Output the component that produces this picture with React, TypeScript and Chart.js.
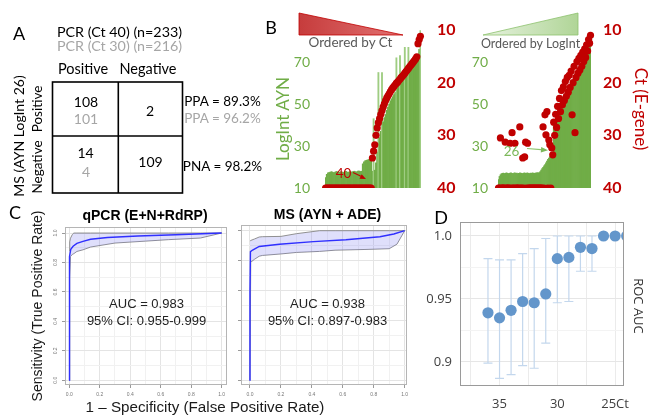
import React, { useEffect, useRef } from "react";
import { Chart, registerables } from "chart.js";
Chart.register(...registerables);

// ---------- Panel B : samples ordered by Ct (left) ----------
const ctOrderLogInt = [
  15.0, 16.5, 17.2,
  17.4, 17.6, 17.8, 17.5, 17.3, 17.6, 17.9, 17.7, 17.5, 17.6, 17.8, 17.6, 17.4, 17.7,
  17.9, 17.6, 17.5, 17.8, 17.7, 17.6, 17.9, 18.0, 17.8, 17.7, 18.0, 18.1, 17.9, 18.0,
  21.5, 22.5, 23.0, 23.2, 23.4, 23.6, 24.0, 24.5,
  18.0, 43.0, 18.5, 22.0,
  27, 65, 34, 37, 65, 41.5, 43.5, 45, 47, 48.5, 50, 51.5, 52.5, 53.5, 54.5, 55.5, 72,
  57.5, 58.5, 73, 60, 61, 61.5, 77, 63.5, 64, 77, 65.5, 66.5, 67, 68, 69, 70, 71, 72, 76, 85,
];
const ctOrderCt = [
  40, 40, 40, 40, 40, 40, 40, 40, 40, 40, 40, 40, 40, 40, 40, 40, 40, 40, 40, 40,
  40, 40, 40, 40, 40, 40, 40, 40, 40, 40, 40, 40, 40, 40, 40, 40, 40, 40, 40,
  34.3, 33.0, 31.8, 30.0, 28.6, 27.6, 26.8, 26.0, 25.3, 24.6, 24.0, 23.4, 22.9, 22.5,
  22.1, 21.7, 21.3, 21.0, 20.7, 20.4, 20.1, 19.9, 19.6, 19.3, 19.0, 18.8, 18.5, 18.2,
  17.9, 17.6, 17.3, 17.0, 16.7, 16.4, 16.1, 15.8, 15.5, 15.1, 12.6, 11.8, 11.2,
];

// ---------- Panel B : samples ordered by LogInt (right) ----------
const logIntOrderLogInt = [
  14.0, 15.5, 16.3,
  16.8, 17.0, 17.1, 16.9, 17.0, 17.2, 17.1, 16.9, 17.0, 17.1, 17.2, 17.0, 16.9, 17.1,
  17.2, 17.0, 17.1, 16.9, 17.0, 17.2, 17.1, 17.0, 16.9, 17.1, 17.2, 17.0, 17.1, 17.2,
  17.0, 16.9, 17.1, 17.0, 17.2, 17.1, 17.0, 17.1, 17.2, 17.3, 17.2, 17.4,
  17.8, 18.5, 19.2, 19.8, 20.5, 21.2, 22.0, 22.8, 23.6, 24.3, 25.0, 25.5, 26.0, 26.5,
  41, 42, 43, 43.8, 44.5, 45.2, 46, 47, 48, 49, 50, 51, 52, 53, 54, 55, 56, 57, 58, 59,
  60, 61, 62, 63, 64, 65, 66, 67, 68, 69, 70, 71, 72, 73, 74, 75, 76, 78, 83,
];
const logIntOrderCt = [
  40, 40, 30.5, 40, 40, 40, 40, 31.3, 40, 40, 40, 40, 31.5, 40, 29.5, 40, 40, 31.5, 40, 40,
  40, 40, 28.4, 40, 40, 34.3, 40, 34.1, 31.3, 40, 31.5, 40, 40, 40, 40, 40, 40, 40, 40, 40,
  40, 40, 40, 40, 40, 40,
  28.4, 40, 26.1, 29.9, 25.5, 40, 30.9, 31.8, 40, 32.4, 33.7,
  27.5, 30.0, 26.0, 28.5, 24.5, 26.8, 23.0, 25.5, 21.5, 24.2, 20.8, 23.4, 19.8, 22.6,
  19.0, 21.8, 18.6, 20.9, 17.8, 26.1, 20.0, 16.9, 29.5, 19.0, 16.0, 18.2, 15.4, 17.6,
  14.8, 16.9, 14.2, 16.0, 13.6, 15.2, 12.8, 14.0, 11.8, 12.5, 11.0,
];
const logIntTicks = [10, 30, 50, 70];
const ctTicks = [10, 20, 30, 40];

// ---------- Panel C : ROC curves ----------
const rocTicks = [0, 0.1, 0.2, 0.3, 0.4, 0.5, 0.6, 0.7, 0.8, 0.9, 1.0];
const qpcrFpr = [0, 0, 0.003, 0.01, 0.025, 0.05, 0.09, 0.14, 0.25, 0.45, 0.7, 1.0];
const qpcrTpr = [0, 0.62, 0.84, 0.89, 0.91, 0.93, 0.943, 0.958, 0.97, 0.98, 0.988, 1.0];
const qpcrBandFpr = [0, 0.003, 0.008, 0.02, 0.03, 0.05, 0.09, 0.14, 0.3, 0.5, 0.65, 0.86, 1.0];
const qpcrBandUpper = [0.88, 0.94, 0.965, 0.99, 1.0, 1.0, 1.0, 1.0, 1.0, 1.0, 1.0, 1.0, 1.0];
const qpcrBandLower = [0, 0.7, 0.84, 0.855, 0.86, 0.875, 0.886, 0.905, 0.932, 0.945, 0.955, 0.966, 1.0];
const msFpr = [0, 0, 0.003, 0.017, 0.06, 0.19, 0.41, 0.62, 0.84, 0.93, 1.0];
const msTpr = [0, 0.6, 0.86, 0.871, 0.895, 0.91, 0.927, 0.94, 0.96, 0.978, 1.0];
const msBandFpr = [0, 0.005, 0.03, 0.06, 0.08, 0.2, 0.3, 0.45, 0.55, 0.75, 0.9, 0.95, 1.0];
const msBandUpper = [0.93, 0.935, 0.945, 0.958, 0.96, 0.962, 0.98, 1.0, 1.0, 1.0, 1.0, 1.0, 1.0];
const msBandLower = [0, 0.79, 0.81, 0.83, 0.835, 0.845, 0.855, 0.862, 0.87, 0.875, 0.88, 0.91, 1.0];

// ---------- Panel D : ROC AUC vs Ct cut-off ----------
const ctCutoffs = [36, 35, 34, 33, 32, 31, 30, 29, 28, 27, 26, 25, 24];
const rocAuc = [0.939, 0.935, 0.941, 0.948, 0.947, 0.954, 0.982, 0.983, 0.991, 0.99, 1.0, 1.0, 1.0];
const aucLow = [0.899, 0.887, 0.89, 0.897, 0.895, 0.915, 0.947, 0.948, 0.972, 0.972, null, null, null];
const aucHigh = [0.982, 0.981, 0.981, 0.986, 0.99, 0.998, 1.0, 1.0, 1.0, 1.0, null, null, null];
const dGridX = [25, 27.5, 30, 32.5, 35, 37.5];
const dLabelX = [35, 30, 25];
const dLabelXText = ["35", "30", "25Ct"];
const dGridY = [0.9, 0.925, 0.95, 0.975, 1.0];
const dLabelY = [0.9, 0.95, 1.0];
const dLabelYText = ["0.9", "0.95", "1.0"];

const GREEN = "#70ad47";
const GREEN_SPIKE = "#9fcd82";
const RED = "#c00000";
const LATO = "Lato, 'Noto Sans', sans-serif";
const ARIAL = "'Liberation Sans', Arial, sans-serif";
const OPEN = "'Open Sans', 'Noto Sans', sans-serif";

const fixedWidth = (w: number) => (s: any) => { s.width = w; s.paddingTop = 0; s.paddingBottom = 0; };
const fixedHeight = (h: number) => (s: any) => { s.height = h; s.paddingLeft = 0; s.paddingRight = 0; };
const near = (a: number, b: number) => Math.abs(a - b) < 1e-6;
const isMajor = (v: number) => Math.abs(Math.round(v * 10) % 2) === 0;

const boxPlugin = {
  id: "box",
  afterDraw(chart: any, _a: any, opts: any) {
    const { ctx, chartArea: a } = chart;
    ctx.save();
    ctx.strokeStyle = opts.color || "#aaa";
    ctx.lineWidth = 1;
    ctx.strokeRect(Math.round(a.left) + 0.5, Math.round(a.top) + 0.5, Math.round(a.right - a.left) - 1, Math.round(a.bottom - a.top) - 1);
    ctx.restore();
  },
};

const errorBarPlugin = {
  id: "errorBars",
  beforeDatasetsDraw(chart: any) {
    const { ctx, scales, chartArea: a } = chart;
    const x = scales.x, y = scales.y;
    ctx.save();
    ctx.beginPath();
    ctx.rect(a.left, a.top, a.right - a.left, a.bottom - a.top);
    ctx.clip();
    ctx.strokeStyle = "#c3d7ed";
    ctx.lineWidth = 1.2;
    ctx.beginPath();
    ctCutoffs.forEach((c, i) => {
      const lo = aucLow[i], hi = aucHigh[i];
      if (lo == null || hi == null) return;
      const px = x.getPixelForValue(c);
      const y1 = y.getPixelForValue(lo);
      const y2 = y.getPixelForValue(hi);
      ctx.moveTo(px, y1); ctx.lineTo(px, y2);
      ctx.moveTo(px - 4.5, y1); ctx.lineTo(px + 4.5, y1);
      ctx.moveTo(px - 4.5, y2); ctx.lineTo(px + 4.5, y2);
    });
    ctx.stroke();
    ctx.restore();
  },
};

function makeB(logInt: number[], ct: number[], leftW: number, rightW: number, leftPad: number, rightPad: number) {
  // bars that stick far above both neighbours are thin spikes: draw them lighter
  const barColor = (c: any) => {
    const i = c.dataIndex;
    const v = logInt[i];
    const nb = Math.max(logInt[i - 1] ?? 0, logInt[i + 1] ?? 0);
    return v > nb + 8 ? GREEN_SPIKE : GREEN;
  };
  return {
    type: "bar",
    data: {
      labels: logInt.map((_, i) => String(i + 1)),
      datasets: [
        {
          type: "line", data: ct, yAxisID: "yCt", showLine: false, pointRadius: 3.6, pointHoverRadius: 3.6,
          pointBackgroundColor: RED, pointBorderWidth: 0, order: 0,
        },
        {
          type: "bar", data: logInt, yAxisID: "yLog", backgroundColor: barColor, borderWidth: 0,
          barPercentage: 1, categoryPercentage: 1, order: 1,
        },
      ],
    },
    options: {
      animation: false, responsive: false, events: [],
      layout: { padding: { top: 10, bottom: 12, left: 0, right: 0 } },
      plugins: { legend: { display: false }, tooltip: { enabled: false } },
      scales: {
        x: { display: false },
        yLog: {
          position: "left", min: 10, max: 85.24, afterFit: fixedWidth(leftW),
          afterBuildTicks: (s: any) => { s.ticks = logIntTicks.map((v) => ({ value: v })); },
          grid: { display: false, drawTicks: false }, border: { display: false },
          ticks: { color: GREEN, font: { family: LATO, size: 14 }, padding: leftPad },
        },
        yCt: {
          position: "right", reverse: true, min: 10, max: 40, afterFit: fixedWidth(rightW),
          afterBuildTicks: (s: any) => { s.ticks = ctTicks.map((v) => ({ value: v })); },
          grid: { display: false, drawTicks: false }, border: { display: false },
          ticks: { color: RED, font: { family: LATO, size: 16, weight: "bold" }, padding: rightPad },
        },
      },
    },
  };
}

function makeRoc(fpr: number[], tpr: number[], bx: number[], bu: number[], bl: number[], showY: boolean,
  xr: number[], yr: number[], yW: number) {
  const gridColor = (ctx: any) => (isMajor(ctx.tick.value) ? "#e4e4e4" : "#f1f1f1");
  const tickColor = (ctx: any) => (isMajor(ctx.tick.value) ? "#9a9a9a" : "rgba(0,0,0,0)");
  return {
    type: "line",
    data: {
      datasets: [
        { data: fpr.map((x, i) => ({ x, y: tpr[i] })), borderColor: "#2f2fff", borderWidth: 1.4, pointRadius: 0, fill: false, tension: 0 },
        { data: bx.map((x, i) => ({ x, y: bu[i] })), borderColor: "#858585", borderWidth: 0.9, pointRadius: 0, fill: "+1", backgroundColor: "rgba(110,110,235,0.22)" },
        { data: bx.map((x, i) => ({ x, y: bl[i] })), borderColor: "#858585", borderWidth: 0.9, pointRadius: 0, fill: false },
      ],
    },
    options: {
      animation: false, responsive: false, events: [],
      layout: { padding: { top: 5, right: 5, left: 0, bottom: 0 } },
      plugins: { legend: { display: false }, tooltip: { enabled: false }, box: { color: "#b5b5b5" } },
      scales: {
        x: {
          type: "linear", min: xr[0], max: xr[1], afterFit: fixedHeight(17),
          afterBuildTicks: (s: any) => { s.ticks = rocTicks.map((v) => ({ value: v })); },
          ticks: {
            autoSkip: false, maxRotation: 0, padding: 4, color: "#777", font: { family: ARIAL, size: 5 },
            callback: (v: any) => (isMajor(v) ? Number(v).toFixed(1) : ""),
          },
          grid: { color: gridColor, tickColor, tickLength: 3 }, border: { display: false },
        },
        y: {
          type: "linear", min: yr[0], max: yr[1], afterFit: fixedWidth(yW),
          afterBuildTicks: (s: any) => { s.ticks = rocTicks.map((v) => ({ value: v })); },
          ticks: {
            autoSkip: false, minRotation: 90, maxRotation: 90, crossAlign: "center", padding: 3,
            color: "#777", font: { family: ARIAL, size: 5 },
            callback: (v: any) => (showY && isMajor(v) ? Number(v).toFixed(1) : ""),
          },
          grid: { color: gridColor, tickColor, tickLength: 3 }, border: { display: false },
        },
      },
    },
    plugins: [boxPlugin],
  };
}

function makeD() {
  return {
    type: "scatter",
    data: {
      datasets: [{
        data: ctCutoffs.map((x, i) => ({ x, y: rocAuc[i] })), pointRadius: 5.6, pointHoverRadius: 5.6,
        backgroundColor: "#6396cb", borderWidth: 0, clip: 0,
      }],
    },
    options: {
      animation: false, responsive: false, events: [],
      layout: { padding: { top: 7, right: 11, left: 0, bottom: 0 } },
      plugins: { legend: { display: false }, tooltip: { enabled: false }, box: { color: "#9a9a9a" } },
      scales: {
        x: {
          type: "linear", reverse: true, min: 24.23, max: 38.42, afterFit: fixedHeight(29),
          afterBuildTicks: (s: any) => { s.ticks = dGridX.map((v) => ({ value: v })); },
          ticks: {
            autoSkip: false, maxRotation: 0, padding: 10, color: "#404040", font: { family: OPEN, size: 13 },
            callback: (v: any) => { const k = dLabelX.findIndex((t) => near(t, Number(v))); return k >= 0 ? dLabelXText[k] : ""; },
          },
          grid: { color: "#ebebeb", drawTicks: false }, border: { display: false },
        },
        y: {
          type: "linear", min: 0.8809, max: 1.0111, afterFit: fixedWidth(45),
          afterBuildTicks: (s: any) => { s.ticks = dGridY.map((v) => ({ value: v })); },
          ticks: {
            autoSkip: false, padding: 8, color: "#404040", font: { family: OPEN, size: 13 },
            callback: (v: any) => { const k = dLabelY.findIndex((t) => near(t, Number(v))); return k >= 0 ? dLabelYText[k] : ""; },
          },
          grid: { color: (ctx: any) => (dLabelY.some((t) => near(t, ctx.tick.value)) ? "#e6e6e6" : "#f3f3f3"), drawTicks: false },
          border: { display: false },
        },
      },
    },
    plugins: [boxPlugin, errorBarPlugin],
  };
}

function ChartCanvas({ left, top, width, height, make }: any) {
  const ref = useRef<HTMLCanvasElement | null>(null);
  useEffect(() => {
    const chart = new Chart(ref.current as HTMLCanvasElement, make());
    return () => chart.destroy();
  }, []);
  return (
    <canvas ref={ref} width={width} height={height}
      style={{ position: "absolute", left, top, width, height }} />
  );
}

function T({ x, y, children, size = 13, color = "#000", family = LATO, weight = "normal", rotate = 0 }: any) {
  return (
    <div style={{
      position: "absolute", left: x, top: y, transform: `translate(-50%,-50%) rotate(${rotate}deg)`,
      fontSize: size, color, fontFamily: family, fontWeight: weight, whiteSpace: "nowrap", lineHeight: 1,
    }}>{children}</div>
  );
}

const GRAY = "#a6a6a6";

export default function App() {
  return (
    <div style={{ position: "fixed", left: 0, top: 0, width: 651, height: 417, background: "#fff", overflow: "hidden" }}>
      <ChartCanvas left={290} top={20} width={170} height={180} make={() => makeB(ctOrderLogInt, ctOrderCt, 35, 39, 15, 16)} />
      <ChartCanvas left={460} top={20} width={180} height={180} make={() => makeB(logIntOrderLogInt, logIntOrderCt, 38, 49, 10, 12)} />
      <ChartCanvas left={44} top={222} width={188} height={180}
        make={() => makeRoc(qpcrFpr, qpcrTpr, qpcrBandFpr, qpcrBandUpper, qpcrBandLower, true, [-0.028, 1.035], [-0.032, 1.041], 21)} />
      <ChartCanvas left={232} top={220} width={180} height={182}
        make={() => makeRoc(msFpr, msTpr, msBandFpr, msBandUpper, msBandLower, false, [-0.058, 1.015], [-0.029, 1.038], 9)} />
      <ChartCanvas left={415} top={215} width={220} height={200} make={makeD} />

      <svg width={651} height={417} style={{ position: "absolute", left: 0, top: 0, pointerEvents: "none" }}>
        <defs>
          <linearGradient id="redTri" x1="0" x2="1" y1="0" y2="0">
            <stop offset="0" stopColor="#c63c3c" />
            <stop offset="1" stopColor="#e27272" />
          </linearGradient>
          <linearGradient id="greenTri" x1="0" x2="1" y1="0" y2="0">
            <stop offset="0" stopColor="#e6f2de" />
            <stop offset="1" stopColor="#b0d597" />
          </linearGradient>
        </defs>
        <polygon points="299,13 299,35 403,35" fill="url(#redTri)" stroke="#c00000" strokeWidth={0.8} />
        <polygon points="483,35 578,13 578,35" fill="url(#greenTri)" stroke="#8dc26d" strokeWidth={0.8} />
        <rect x={52.5} y={82} width={130} height={111} fill="none" stroke="#000" strokeWidth={1.6} />
        <line x1={118.3} y1={82} x2={118.3} y2={193} stroke="#000" strokeWidth={1.6} />
        <line x1={52.5} y1={136} x2={182.5} y2={136} stroke="#000" strokeWidth={1.6} />
        <line x1={353} y1={172.5} x2={361} y2={176.3} stroke={RED} strokeWidth={1.2} />
        <polygon points="366,179 359.5,178.8 361.7,174.2" fill={RED} />
        <line x1={527} y1={148.5} x2={541} y2={149.7} stroke="#8cc46c" strokeWidth={1.2} />
        <polygon points="548,150.3 540.8,152.4 541.2,147.1" fill="#7cb85a" />
      </svg>

      {/* Panel A */}
      <T x={19} y={33} size={18}>A</T>
      <T x={119.5} y={31.5} size={14.3}>PCR (Ct 40) (n=233)</T>
      <T x={119.5} y={46} size={14.3} color={GRAY}>PCR (Ct 30) (n=216)</T>
      <T x={83} y={69} size={14.5}>Positive</T>
      <T x={148} y={69} size={14.5}>Negative</T>
      <T x={86} y={102} size={14}>108</T>
      <T x={86} y={118.5} size={14} color={GRAY}>101</T>
      <T x={150} y={111} size={14}>2</T>
      <T x={85.5} y={152.5} size={14}>14</T>
      <T x={86} y={172} size={14} color={GRAY}>4</T>
      <T x={150.5} y={161.5} size={14}>109</T>
      <T x={222.5} y={102} size={13.5}>PPA = 89.3%</T>
      <T x={222.5} y={118.5} size={13.5} color={GRAY}>PPA = 96.2%</T>
      <T x={222.5} y={167} size={13.5}>PNA = 98.2%</T>
      <T x={18.5} y={136} size={14} rotate={-90}>MS (AYN LogInt 26)</T>
      <T x={38} y={109} size={13.5} rotate={-90}>Positive</T>
      <T x={38} y={167} size={13.5} rotate={-90}>Negative</T>

      {/* Panel B */}
      <T x={271} y={26.5} size={18}>B</T>
      <T x={350.5} y={43} size={13.5} color="#595959">Ordered by Ct</T>
      <T x={530.5} y={43.5} size={12.5} color="#595959">Ordered by LogInt</T>
      <T x={281.5} y={118.5} size={17} color={GREEN} rotate={-90}>LogInt AYN</T>
      <T x={640.5} y={109} size={17} color={RED} rotate={90}>Ct (E-gene)</T>
      <T x={343.5} y={174} size={13.5} color={RED}>40</T>
      <T x={511.5} y={152} size={13.5} color="#7cb85a">26</T>

      {/* Panel C */}
      <T x={15} y={211.5} size={18}>C</T>
      <T x={145} y={215} size={14} family={ARIAL} weight="bold">qPCR (E+N+RdRP)</T>
      <T x={327.5} y={214} size={14} family={ARIAL} weight="bold">MS (AYN + ADE)</T>
      <T x={37} y={306} size={14} family={ARIAL} rotate={-90} color="#1a1a1a">Sensitivity (True Positive Rate)</T>
      <T x={205} y={407} size={15.2} family={ARIAL} color="#1a1a1a">1 – Specificity (False Positive Rate)</T>
      <T x={146.5} y={303} size={13} family={ARIAL} color="#222">AUC = 0.983</T>
      <T x={146.5} y={320} size={13} family={ARIAL} color="#222">95% CI: 0.955-0.999</T>
      <T x={327.5} y={303} size={13} family={ARIAL} color="#222">AUC = 0.938</T>
      <T x={327.5} y={320} size={13} family={ARIAL} color="#222">95% CI: 0.897-0.983</T>

      {/* Panel D */}
      <T x={441} y={217} size={18}>D</T>
      <T x={638} y={306} size={13} family={OPEN} rotate={90} color="#333">ROC AUC</T>
    </div>
  );
}
